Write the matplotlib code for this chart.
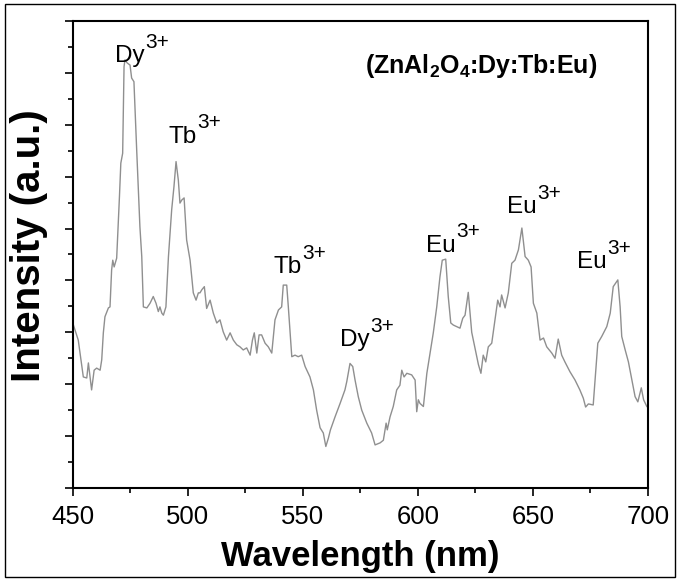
import numpy as np
import matplotlib
matplotlib.use("Agg")
import matplotlib.pyplot as plt
from matplotlib.patches import Rectangle
from matplotlib.ticker import MultipleLocator, NullFormatter

plt.rcParams['font.family'] = ['Liberation Sans', 'DejaVu Sans']

# emission spectrum (intensity in arbitrary units)
wavelength = [450.3, 452.4, 454.6, 456.1, 456.8, 458.2, 459.3, 460.4, 461.9, 462.6,
              463.3, 464.0, 465.5, 466.2, 466.9, 467.4, 468.0, 469.1, 470.3, 470.9,
              471.7, 472.3, 472.7, 473.7, 474.9, 475.6, 476.6, 477.8, 479.2, 480.0,
              480.7, 482.2, 483.6, 485.0, 486.2, 487.2, 487.9, 488.7, 489.4, 490.5,
              491.6, 493.0, 494.0, 494.9, 495.9, 496.6, 497.4, 498.4, 499.5, 501.0,
              502.4, 503.6, 504.6, 505.3, 506.1, 507.2, 508.2, 509.7, 511.1, 512.6,
              514.0, 515.4, 516.9, 518.4, 519.8, 521.3, 522.7, 524.1, 525.6, 527.1,
              528.1, 528.9, 530.0, 531.0, 532.1, 533.6, 535.0, 536.5, 537.9, 539.4,
              540.8, 541.5, 543.0, 543.7, 545.2, 546.6, 548.0, 549.5, 551.0, 553.1,
              554.6, 556.0, 557.5, 558.9, 560.0, 561.1, 562.0, 564.0, 566.2, 568.3,
              569.1, 570.5, 571.7, 572.7, 574.1, 575.6, 577.8, 579.9, 581.4, 583.6,
              585.0, 586.2, 586.7, 587.9, 589.3, 590.8, 592.2, 593.0, 594.0, 595.2,
              597.3, 598.8, 599.5, 600.2, 600.9, 602.4, 603.9, 605.3, 606.7, 608.2,
              609.6, 610.6, 612.1, 613.2, 614.3, 615.4, 616.9, 618.3, 619.5, 620.5,
              621.9, 623.4, 624.8, 626.3, 627.4, 628.4, 629.5, 630.6, 632.1, 633.5,
              634.7, 635.7, 636.4, 637.9, 639.3, 640.8, 642.2, 643.7, 645.2, 646.6,
              648.0, 649.2, 650.2, 651.7, 653.1, 654.6, 656.0, 658.2, 659.6, 661.0,
              662.5, 663.9, 666.1, 668.3, 670.4, 671.9, 672.9, 674.1, 676.2, 678.2,
              679.9, 682.1, 683.6, 684.9, 686.9, 687.9, 688.6, 690.1, 691.5, 693.0,
              694.4, 695.6, 697.1, 698.1, 699.5, 700.0]
intensity = [3.14, 2.85, 2.14, 2.12, 2.41, 1.89, 2.27, 2.31, 2.27, 2.47,
             2.99, 3.30, 3.47, 3.49, 4.20, 4.39, 4.26, 4.43, 5.61, 6.26,
             6.45, 8.12, 8.25, 8.19, 8.15, 7.90, 7.83, 6.51, 5.03, 4.46,
             3.49, 3.47, 3.56, 3.69, 3.56, 3.40, 3.49, 3.37, 3.33, 3.49,
             4.46, 5.36, 5.81, 6.29, 5.93, 5.49, 5.55, 5.59, 4.78, 4.39,
             3.76, 3.62, 3.76, 3.76, 3.82, 3.88, 3.46, 3.62, 3.37, 3.18,
             3.24, 3.01, 2.85, 2.99, 2.85, 2.76, 2.72, 2.66, 2.70, 2.56,
             2.85, 2.99, 2.60, 2.95, 2.95, 2.79, 2.72, 2.60, 3.24, 3.43,
             3.49, 3.91, 3.91, 3.49, 2.53, 2.56, 2.53, 2.56, 2.34, 2.14,
             1.89, 1.50, 1.16, 1.06, 0.80, 0.96, 1.12, 1.37, 1.63, 1.89,
             2.05, 2.40, 2.34, 2.08, 1.76, 1.50, 1.25, 1.06, 0.83, 0.87,
             0.92, 1.25, 1.12, 1.37, 1.57, 1.89, 1.98, 2.27, 2.14, 2.21,
             2.18, 2.08, 1.47, 1.70, 1.63, 1.57, 2.21, 2.60, 2.99, 3.49,
             4.07, 4.39, 4.41, 3.69, 3.18, 3.14, 3.11, 3.08, 3.27, 3.33,
             3.77, 3.00, 2.70, 2.38, 2.21, 2.56, 2.43, 2.72, 2.79, 3.24,
             3.62, 3.49, 3.72, 3.47, 3.76, 4.33, 4.39, 4.59, 5.01, 4.46,
             4.39, 4.26, 3.56, 3.37, 2.85, 2.89, 2.72, 2.60, 2.50, 2.87,
             2.56, 2.43, 2.24, 2.08, 1.89, 1.73, 1.56, 1.62, 1.60, 2.79,
             2.92, 3.11, 3.37, 3.88, 4.01, 3.49, 2.92, 2.66, 2.43, 2.08,
             1.76, 1.66, 1.93, 1.70, 1.57, 1.55]

# ion labels: (text, wavelength of left edge, baseline height)
ion_names = ['Dy', 'Tb', 'Tb', 'Dy', 'Eu', 'Eu', 'Eu']
ion_x = [468.4, 491.5, 537.2, 566.2, 603.7, 638.6, 669.0]
ion_y = [8.21, 6.65, 4.14, 2.73, 4.55, 5.30, 4.24]
charge = '3+'

fig = plt.figure(figsize=(6.81, 5.81), dpi=100)
ax = fig.add_axes([0.1068, 0.1601, 0.8447, 0.8038])

ax.plot(wavelength, intensity, color='#8f8f8f', lw=1.0)

ax.set_xlim(450, 700)
ax.set_ylim(0, 9)
ax.xaxis.set_major_locator(MultipleLocator(50))
ax.xaxis.set_minor_locator(MultipleLocator(25))
ax.yaxis.set_major_locator(MultipleLocator(1))
ax.yaxis.set_minor_locator(MultipleLocator(0.5))
ax.yaxis.set_major_formatter(NullFormatter())
ax.tick_params(which='major', direction='out', length=6, width=1.2, labelsize=18.5)
ax.tick_params(which='minor', direction='out', length=3.5, width=1.2)
ax.tick_params(axis='x', pad=6)
for s in ax.spines.values():
    s.set_linewidth(1.5)

ax.set_xlabel('Wavelength (nm)', fontsize=25, fontweight='bold', labelpad=8)
ax.set_ylabel('Intensity (a.u.)', fontsize=29, fontweight='bold')
ax.yaxis.set_label_coords(-0.043, 0.52)

for name, x, y in zip(ion_names, ion_x, ion_y):
    t = ax.text(x, y, name, fontsize=17.5, ha='left', va='baseline')
    ax.annotate(charge, xy=(1, 0), xycoords=t, xytext=(0.5, 14),
                textcoords='offset points', fontsize=15, ha='left', va='baseline')

ax.text(0.508, 0.888, r'(ZnAl$_\mathdefault{2}$O$_\mathdefault{4}$:Dy:Tb:Eu)',
        transform=ax.transAxes, fontsize=18, fontweight='bold', ha='left', va='baseline')

# outer frame round the whole picture
fig.patches.append(Rectangle((0.008, 0.007), 0.983, 0.986, transform=fig.transFigure,
                             fill=False, edgecolor='black', lw=1.0))

fig.savefig('out.png', dpi=100)
